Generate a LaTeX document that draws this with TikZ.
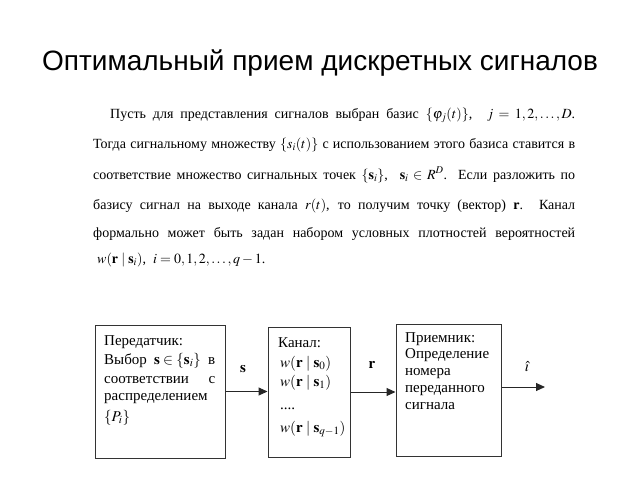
\documentclass[tikz,border=0pt]{standalone}
\usepackage{mathptmx}
\usepackage[no-math]{fontspec}
\setmainfont{Liberation Serif}
\newfontfamily\titlefont{Liberation Sans}
\usetikzlibrary{arrows.meta}

\tikzset{
  txt/.style  = {anchor=base west, inner sep=0pt, font=\fontsize{14}{16}\selectfont},
  boxtxt/.style = {txt, font=\fontsize{15}{17}\selectfont},
  block/.style = {draw=black!80, line width=1pt, inner sep=0pt},
  flow/.style  = {line width=1pt, draw=black!85, -{Triangle[length=9pt,width=8pt]}}
}

\begin{document}
\begin{tikzpicture}[x=1pt, y=-1pt]

  \useasboundingbox (0,0) rectangle (640,480);

  % Title
  \node[anchor=base, inner sep=0pt, font=\titlefont\fontsize{28}{32}\selectfont] (title) at (320,70)
    {Оптимальный прием дискретных сигналов};

  % Paragraph
  \begin{scope}[shift={(93,0)}]
    \node[txt] (l1) at (17,118) {\makebox[465pt][s]{Пусть для представления сигналов выбран базис $\{\varphi_j(t)\}$, \ $j=1,2,\ldots,D$.}};
    \node[txt] (l2) at (0,148) {\makebox[482pt][s]{Тогда сигнальному множеству $\{s_i(t)\}$ с использованием этого базиса ставится в}};
    \node[txt] (l3) at (0,179) {\makebox[482pt][s]{соответствие множество сигнальных точек $\{\mathbf{s}_i\}$, \ $\mathbf{s}_i\in R^D$. Если разложить по}};
    \node[txt] (l4) at (0,209) {\makebox[482pt][s]{базису сигнал на выходе канала $r(t)$, то получим точку (вектор) $\mathbf{r}$. Канал}};
    \node[txt] (l5) at (0,237) {\makebox[482pt][s]{формально может быть задан набором условных плотностей вероятностей}};
    \node[txt] (l6) at (4,263) {$w(\mathbf{r}\mid\mathbf{s}_i)$, \ $i=0,1,2,\ldots,q-1$.};
  \end{scope} % Paragraph

  % Blocks
  \node[block, minimum width=130pt, minimum height=133pt] (tx) at (160,391.5) {};
  \node[block, minimum width=82pt,  minimum height=130pt] (ch) at (309,392) {};
  \node[block, minimum width=105pt, minimum height=132pt] (rx) at (448.5,390) {};
  \coordinate (out) at (545,387);

  % Transmitter text
  \begin{scope}[shift={(104,0)}]
    \node[boxtxt] (tx1) at (0,345) {Передатчик:};
    \node[boxtxt] (tx2) at (0,364) {\makebox[111pt][s]{Выбор \ $\mathbf{s}\in\{\mathbf{s}_i\}$ \ в}};
    \node[boxtxt] (tx3) at (0,383) {\makebox[111pt][s]{соответствии с}};
    \node[boxtxt] (tx4) at (0,400) {распределением};
    \node[boxtxt] (tx5) at (0,421) {$\{P_i\}$};
  \end{scope}

  % Channel text
  \begin{scope}[shift={(278,0)}]
    \node[boxtxt] (ch1) at (0,347) {Канал:};
    \node[boxtxt] (ch2) at (2,367) {$w(\mathbf{r}\mid\mathbf{s}_0)$};
    \node[boxtxt] (ch3) at (2,386) {$w(\mathbf{r}\mid\mathbf{s}_1)$};
    \node[boxtxt] (ch4) at (2,409) {....};
    \node[boxtxt] (ch5) at (2,432) {$w(\mathbf{r}\mid\mathbf{s}_{q-1})$};
  \end{scope}

  % Receiver text
  \begin{scope}[shift={(405,0)}]
    \node[boxtxt] (rx1) at (0,342) {Приемник:};
    \node[boxtxt] (rx2) at (0,358) {Определение};
    \node[boxtxt] (rx3) at (0,375) {номера};
    \node[boxtxt] (rx4) at (0,392) {переданного};
    \node[boxtxt] (rx5) at (0,409) {сигнала};
  \end{scope}

  % Connectors
  \draw[flow] (tx.east) -- (tx.east -| ch.west);
  \draw[flow] (ch.east) -- (ch.east -| rx.west);
  \draw[flow] (out -| rx.east) -- (out);

  \node[boxtxt, anchor=base] (sl) at (243,372) {$\mathbf{s}$};
  \node[boxtxt, anchor=base] (rl) at (372,368) {$\mathbf{r}$};
  \node[boxtxt, anchor=base] (il) at (527,371) {$\hat{\imath}$};

\end{tikzpicture}
\end{document}
